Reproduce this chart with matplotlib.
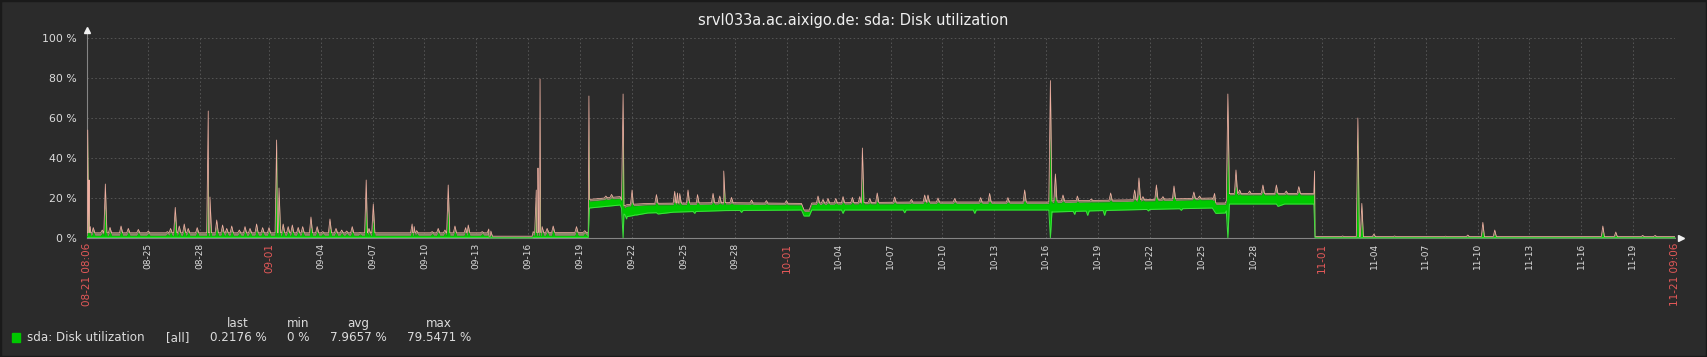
import numpy as np
import pandas as pd
import matplotlib
matplotlib.use("Agg")
import matplotlib.pyplot as plt
from matplotlib.patches import Rectangle

TITLE = "srvl033a.ac.aixigo.de: sda: Disk utilization"
START = pd.Timestamp("2019-08-21 08:06")
SPAN_DAYS = 92.0

# baseline level of the series (days since START, percent)
base_day = [0.0, 23.20, 23.30, 25.80, 25.90, 29.05, 29.12, 30.90, 31.12, 31.30,
            31.85, 32.50, 36.90, 41.40, 41.55, 41.85, 42.00, 48.00, 55.70, 55.95,
            60.00, 65.20, 65.40, 65.95, 66.20, 71.08, 71.15, 92.0]
base_min = [0.3, 0.3, 0.1, 0.1, 0.3, 0.3, 15.0, 16.5, 12.0, 10.7,
            11.5, 12.5, 13.7, 14.0, 11.0, 11.0, 14.0, 14.0, 14.0, 13.0,
            14.0, 15.0, 12.3, 12.5, 17.0, 17.0, 0.1, 0.1]
base_avg = [1.3, 1.3, 0.4, 0.4, 1.3, 1.3, 18.4, 19.8, 15.0, 15.8,
            16.2, 16.5, 16.9, 16.5, 13.2, 13.2, 16.7, 17.2, 17.2, 17.6,
            18.2, 19.2, 16.7, 16.7, 21.5, 21.5, 0.4, 0.4]
base_max = [2.6, 2.6, 0.9, 0.9, 2.8, 2.8, 19.3, 20.7, 16.0, 16.7,
            17.0, 17.3, 17.7, 17.3, 14.0, 14.0, 17.5, 18.0, 18.0, 18.5,
            19.0, 20.0, 17.5, 17.5, 22.3, 22.3, 0.7, 0.7]

# spikes: position (days), max and avg (percent)
spike_day = [0.06, 0.14, 0.21, 0.38, 0.90, 1.08, 1.35, 1.99, 2.41, 2.99,
             3.57, 4.67, 4.86, 5.13, 5.36, 5.65, 5.88, 6.40, 7.04, 7.14,
             7.53, 7.87, 8.11, 8.40, 8.84, 9.17, 9.46, 9.84, 10.19, 10.56,
             11.00, 11.14, 11.38, 11.67, 11.91, 12.25, 12.51, 12.99, 13.35, 13.67,
             14.09, 14.44, 14.77, 15.06, 15.38, 15.83, 16.19, 16.35, 16.60, 18.85,
             18.97, 19.11, 20.01, 20.36, 20.75, 20.94, 21.33, 21.95, 22.10, 22.91,
             23.29, 23.41, 25.86, 26.04, 26.14, 26.26, 26.38, 26.67, 27.02, 28.37,
             28.85, 29.09, 30.07, 30.40, 31.07, 31.59, 33.00, 34.06, 34.22, 34.35,
             34.83, 35.38, 36.28, 36.67, 36.90, 37.35, 38.51, 39.37, 40.53, 42.36,
             42.65, 42.94, 43.39, 43.81, 44.35, 44.78, 44.93, 45.36, 45.79, 46.80,
             47.77, 48.54, 48.73, 49.31, 50.28, 51.78, 52.30, 53.36, 54.33, 55.82,
             56.11, 56.55, 57.38, 58.19, 59.31, 60.70, 60.95, 61.18, 61.96, 62.34,
             62.98, 64.13, 64.46, 65.33, 66.10, 66.57, 66.78, 67.36, 68.13, 68.91,
             69.48, 70.21, 71.12, 72.75, 73.63, 73.86, 74.56, 75.76, 78.71, 80.00,
             80.87, 81.56, 87.82, 88.57, 90.13, 90.85]
spike_max = [54.0, 29.0, 5.7, 5.2, 4.0, 27.0, 5.3, 6.0, 4.8, 4.3,
             3.5, 3.2, 4.8, 15.3, 6.0, 7.0, 4.8, 5.2, 63.5, 20.5,
             9.0, 6.5, 4.8, 6.0, 4.0, 5.7, 4.8, 7.0, 5.2, 5.2,
             49.0, 25.0, 7.0, 5.7, 6.5, 5.3, 5.7, 10.5, 5.7, 3.2,
             9.5, 4.8, 4.0, 3.5, 5.7, 2.7, 29.0, 4.8, 17.0, 7.0,
             5.7, 3.7, 3.2, 4.8, 4.0, 26.5, 6.0, 5.2, 6.5, 3.2,
             4.5, 3.5, 3.2, 24.0, 35.0, 79.5, 5.7, 4.8, 6.0, 5.7,
             3.7, 71.0, 21.0, 21.8, 72.0, 24.0, 21.7, 23.3, 22.5, 22.2,
             24.0, 21.7, 22.3, 21.0, 33.5, 20.3, 19.0, 18.7, 18.7, 21.0,
             19.3, 19.8, 19.8, 20.7, 20.3, 20.7, 45.0, 19.8, 22.5, 20.5,
             19.3, 21.5, 21.5, 20.0, 19.8, 20.2, 22.3, 20.2, 24.0, 78.7,
             32.0, 21.5, 21.0, 19.5, 22.5, 24.0, 30.0, 20.7, 26.5, 20.7,
             26.0, 23.0, 21.0, 22.3, 72.0, 34.0, 24.0, 23.5, 26.5, 26.5,
             23.5, 25.7, 33.5, 1.0, 60.0, 17.3, 2.0, 1.0, 0.9, 1.5,
             7.8, 4.0, 6.0, 3.0, 1.3, 1.3]
spike_avg = [52.0, 15.0, 3.5, 3.2, 2.6, 15.0, 3.2, 3.5, 3.0, 2.8,
             2.3, 2.2, 3.0, 9.0, 3.5, 4.0, 3.0, 3.2, 33.0, 8.0,
             5.0, 3.8, 3.0, 3.5, 2.6, 3.4, 3.0, 4.0, 3.2, 3.2,
             43.0, 14.0, 4.0, 3.4, 3.8, 3.2, 3.4, 5.5, 3.4, 2.2,
             5.0, 3.0, 2.6, 2.3, 3.4, 2.0, 15.0, 3.0, 9.0, 4.0,
             3.4, 2.4, 2.2, 3.0, 2.6, 14.0, 3.5, 3.2, 3.8, 2.2,
             2.0, 1.8, 2.0, 20.0, 21.0, 36.0, 3.4, 3.0, 4.0, 3.4,
             2.4, 56.0, 19.5, 20.0, 52.0, 18.0, 18.0, 18.5, 18.0, 18.0,
             19.0, 18.0, 18.0, 17.5, 25.7, 17.5, 17.0, 17.0, 17.0, 18.0,
             17.5, 17.5, 17.5, 18.0, 18.0, 18.0, 30.0, 17.5, 18.5, 18.0,
             17.5, 18.5, 18.5, 18.0, 18.0, 18.0, 18.5, 18.0, 19.0, 50.0,
             21.0, 18.5, 18.5, 18.0, 19.0, 19.5, 22.0, 19.0, 21.0, 19.0,
             21.0, 20.0, 19.5, 19.0, 45.0, 26.0, 22.0, 21.5, 23.0, 23.0,
             22.0, 23.0, 28.0, 0.6, 54.0, 9.0, 1.0, 0.6, 0.5, 0.8,
             4.0, 2.0, 3.5, 1.5, 0.8, 0.8]

# points where the min line drops (big spikes fall to zero, band has notches)
dip_day = [31.07, 55.82, 66.10, 31.27, 31.75, 33.10, 35.22, 37.93, 43.81,
           47.38, 51.44, 57.23, 57.98, 58.96, 61.50, 63.40, 69.00]
dip_min = [0.0, 0.0, 0.0, 9.5, 11.5, 12.0, 12.3, 12.8, 12.3,
           12.6, 12.3, 11.8, 11.3, 11.3, 13.5, 13.8, 15.8]

tick_labels = ["08-21 08:06", "08-25", "08-28", "09-01", "09-04", "09-07", "09-10",
               "09-13", "09-16", "09-19", "09-22", "09-25", "09-28", "10-01", "10-04",
               "10-07", "10-10", "10-13", "10-16", "10-19", "10-22", "10-25", "10-28",
               "11-01", "11-04", "11-07", "11-10", "11-13", "11-16", "11-19", "11-21 09:06"]
red_labels = ["08-21 08:06", "09-01", "10-01", "11-01", "11-21 09:06"]

y_ticks = [0, 20, 40, 60, 80, 100]

legend_name = "sda: Disk utilization"
stat_names = ["last", "min", "avg", "max"]
stat_values = ["0.2176 %", "0 %", "7.9657 %", "79.5471 %"]

BG = "#2b2b2b"
GREEN = "#00c800"
PINK = "#f0b0a2"
OLIVE = "#8c8a6c"
TXT = "#dcdcdc"
RED = "#e45959"

# ---- build the series: baseline + spikes + notches ----
w = 0.09
t, lo, av, hi = list(base_day), list(base_min), list(base_avg), list(base_max)


def add_point(d, low=None, mid=None, top=None):
    t.append(d)
    lo.append(np.interp(d, base_day, base_min) if low is None else low)
    av.append(np.interp(d, base_day, base_avg) if mid is None else mid)
    hi.append(np.interp(d, base_day, base_max) if top is None else top)


for d, m, a in zip(spike_day, spike_max, spike_avg):
    add_point(d - w)
    add_point(d + w)
    add_point(d, mid=a, top=m)
t, lo, av, hi = map(np.array, (t, lo, av, hi))
for d, v in zip(dip_day, dip_min):
    near = np.abs(t - d)
    if near.min() < 0.02:
        lo[np.argmin(near)] = v
    else:
        t = np.append(t, [d - w, d, d + w])
        lo = np.append(lo, [np.interp(d - w, base_day, base_min), v, np.interp(d + w, base_day, base_min)])
        av = np.append(av, [np.interp(x, base_day, base_avg) for x in (d - w, d, d + w)])
        hi = np.append(hi, [np.interp(x, base_day, base_max) for x in (d - w, d, d + w)])
order = np.argsort(t, kind="stable")
t, lo, av, hi = t[order], lo[order], av[order], hi[order]
av = np.maximum(av, lo)

# ---- figure ----
W, H = 1707, 357
fig = plt.figure(figsize=(W / 100, H / 100), dpi=100, facecolor=BG)
fig.patches.append(Rectangle((0, 0), 1, 1, transform=fig.transFigure,
                             fill=False, edgecolor="#1a1a1a", linewidth=2.5))

x0, x1, y0, y1 = 86.7, 1675, 38, 238
ax = fig.add_axes([x0 / W, (H - y1) / H, (x1 - x0) / W, (y1 - y0) / H])
ax.set_facecolor(BG)

ax.fill_between(t, av, hi, color=OLIVE, linewidth=0, zorder=3)
ax.fill_between(t, lo, av, color=GREEN, linewidth=0, zorder=3)
ax.plot(t, hi, color=PINK, lw=0.55, zorder=4)
ax.plot(t, lo, color="#3fe03f", lw=0.7, zorder=4)

ax.set_xlim(0, SPAN_DAYS)
ax.set_ylim(0, 100)

# ticks: day labels sit a little before local midnight
tick_day = [(pd.Timestamp("2019-" + lab) - pd.Timedelta(hours=2.4) - START) / pd.Timedelta(days=1)
            for lab in tick_labels]
tick_day[0], tick_day[-1] = 0.0, SPAN_DAYS
ax.set_xticks(tick_day)
ax.set_xticklabels(tick_labels, rotation=90, va="top", ha="center")
for lab in ax.get_xticklabels():
    if lab.get_text() in red_labels:
        lab.set_color(RED)
        lab.set_fontsize(7.5)
    else:
        lab.set_color(TXT)
        lab.set_fontsize(6.5)
ax.set_yticks(y_ticks)
ax.set_yticklabels([f"{v} %" for v in y_ticks])
ax.tick_params(axis="x", length=0, pad=3.5)
ax.tick_params(axis="y", length=0, pad=7, labelsize=7.8, labelcolor=TXT)

ax.grid(True, color="#555555", linestyle=(0, (1.6, 2.4)), linewidth=0.7)
ax.set_axisbelow(True)
for s in ("top", "right"):
    ax.spines[s].set_visible(False)
for s in ("left", "bottom"):
    ax.spines[s].set_color("#858585")
    ax.spines[s].set_linewidth(0.8)
ax.plot([0, 0], [1.0, 1.03], transform=ax.transAxes, color="#858585", lw=0.8, clip_on=False)
ax.plot([0], [1.04], marker="^", ms=4, color="#f0f0f0", transform=ax.transAxes, clip_on=False)
ax.plot([1.004], [0], marker=">", ms=4, color="#f0f0f0", transform=ax.transAxes, clip_on=False)

fig.text(0.5, 1 - 20.5 / H, TITLE, ha="center", va="center", color="#f0f0f0", fontsize=10.5)

# ---- legend ----
fig.patches.append(Rectangle((12 / W, 1 - 342 / H), 8 / W, 9.3 / H,
                             transform=fig.transFigure, color=GREEN))
fig.text(27 / W, 1 - 337.5 / H, legend_name, ha="left", va="center", color=TXT, fontsize=8.6)
fig.text(166 / W, 1 - 337.5 / H, "[all]", ha="left", va="center", color=TXT, fontsize=8.6)
for xc, name, val in zip([238, 298, 358, 439], stat_names, stat_values):
    fig.text(xc / W, 1 - 323.5 / H, name, ha="center", va="center", color=TXT, fontsize=8.6)
    fig.text(xc / W, 1 - 337.5 / H, val, ha="center", va="center", color=TXT, fontsize=8.6)

fig.savefig("out.png", dpi=100, facecolor=BG)
